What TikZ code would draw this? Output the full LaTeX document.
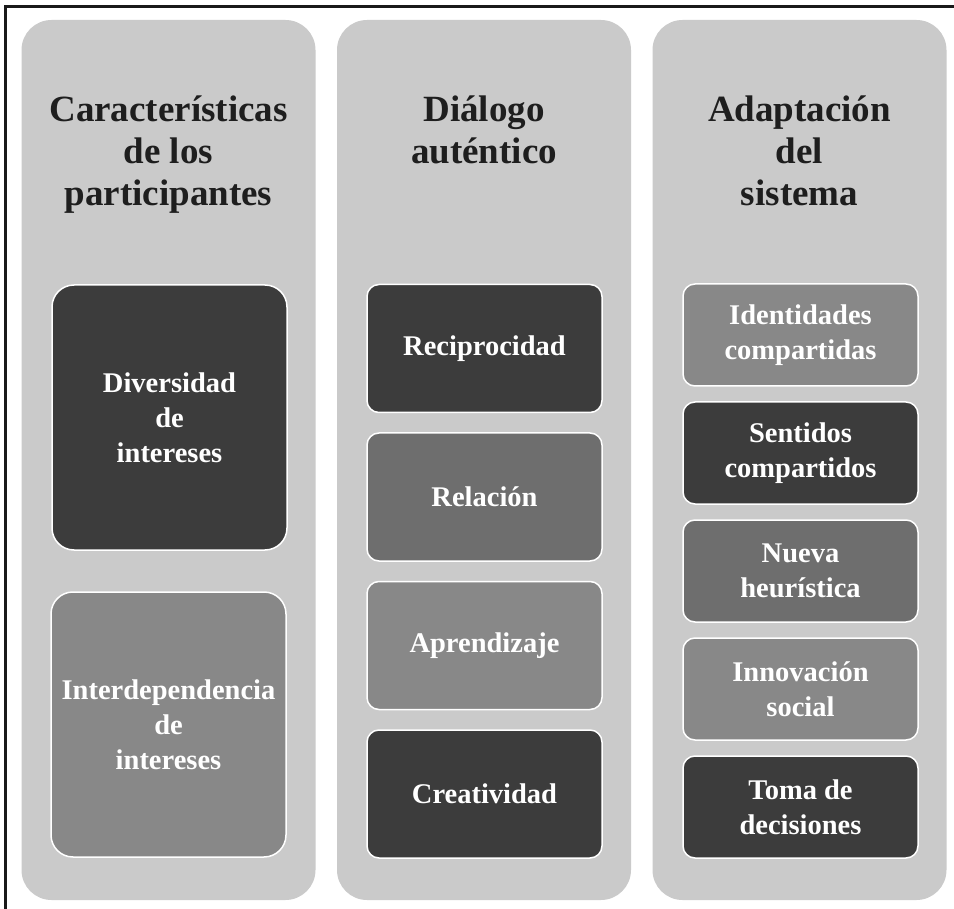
\documentclass[tikz,border=0pt]{standalone}
\usepackage{fontspec}
\setmainfont{Liberation Serif}
\definecolor{colgray}{HTML}{CACACA}
\definecolor{darkbox}{HTML}{3C3C3C}
\definecolor{midbox}{HTML}{6E6E6E}
\definecolor{lightbox}{HTML}{888888}
\definecolor{titleink}{HTML}{1E1E1E}
\tikzset{
  colpanel/.style={fill=colgray, rounded corners=30pt, minimum width=294pt, minimum height=880pt, inner sep=0pt},
  coltitle/.style={anchor=north, align=center, text=titleink, inner sep=0pt, font=\bfseries\fontsize{37}{42}\selectfont},
  itembox/.style={draw=white, line width=1.5pt, rounded corners=12pt, minimum width=235pt, align=center, text=white, inner sep=0pt, font=\bfseries\fontsize{28.5}{35}\selectfont}
}
\begin{document}
\begin{tikzpicture}[x=1pt,y=-1pt]
\useasboundingbox (0,0) rectangle (954,909);
\draw[line width=3pt, black!90] (5,909) -- (5,7) -- (954,7);
% columns
\node[colpanel] (colA) at (168.5,460) {};
\node[colpanel] (colB) at (484,460) {};
\node[colpanel] (colC) at (799.5,460) {};
\node[coltitle] (titleA) at (168.5,96) {Características\\de los\\participantes};
\node[coltitle] (titleB) at (484,96) {Diálogo\\auténtico};
\node[coltitle] (titleC) at (799.5,96) {Adaptación\\del\\sistema};
% first column
\node[itembox, fill=darkbox, minimum height=265pt, rounded corners=22pt] (diversidad) at (169.5,417.5) {Diversidad\\de\\intereses};
\node[itembox, fill=lightbox, minimum height=265pt, rounded corners=22pt] (interdep) at (168.5,724.5) {Interdependencia\\de\\intereses};
% second column
\node[itembox, fill=darkbox, minimum height=128pt] (reciproc) at (484.5,348.5) {Reciprocidad};
\node[itembox, fill=midbox, minimum height=128pt] (relacion) at (484.5,497) {Relación};
\node[itembox, fill=lightbox, minimum height=128pt] (aprend) at (484.5,645.5) {Aprendizaje};
\node[itembox, fill=darkbox, minimum height=128pt] (creativ) at (484.5,794) {Creatividad};
% third column
\node[itembox, fill=lightbox, minimum height=102pt] (identid) at (800.5,335) {Identidades\\compartidas};
\node[itembox, fill=darkbox, minimum height=102pt] (sentidos) at (800.5,453) {Sentidos\\compartidos};
\node[itembox, fill=midbox, minimum height=102pt] (heuristica) at (800.5,571) {Nueva\\heurística};
\node[itembox, fill=lightbox, minimum height=102pt] (innovac) at (800.5,689) {Innovación\\social};
\node[itembox, fill=darkbox, minimum height=102pt] (decision) at (800.5,807) {Toma de\\decisiones};
\end{tikzpicture}
\end{document}
